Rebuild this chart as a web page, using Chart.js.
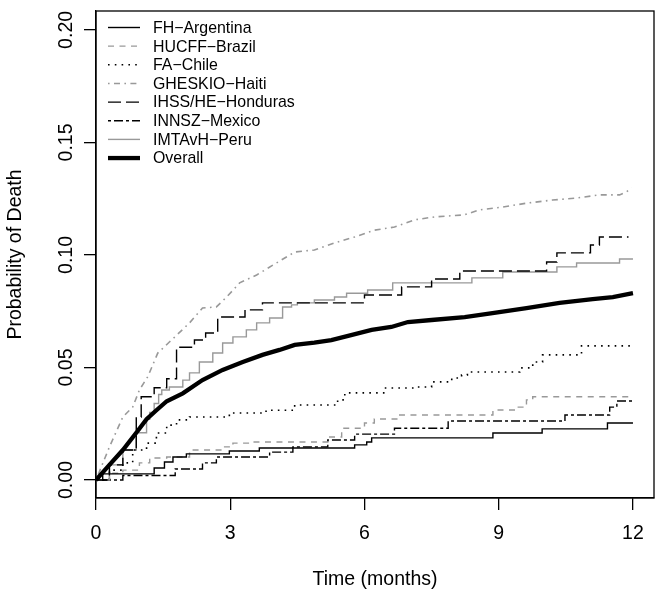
<!DOCTYPE html>
<html>
<head>
<meta charset="utf-8">
<script src="https://cdn.jsdelivr.net/npm/chart.js@4.4.0/dist/chart.umd.min.js"></script>
<style>
  html, body { margin: 0; padding: 0; background: #fff; }
  #wrap { width: 662px; height: 597px; }
</style>
</head>
<body>
<div id="wrap"><canvas id="c" width="662" height="597"></canvas></div>
<script>
// series names as in the legend
const seriesNames = ["FH\u2212Argentina", "HUCFF\u2212Brazil", "FA\u2212Chile", "GHESKIO\u2212Haiti",
  "IHSS/HE\u2212Honduras", "INNSZ\u2212Mexico", "IMTAvH\u2212Peru", "Overall"];

// time (months) and cumulative probability
const argT = [0, 0.15, 1.3, 1.53, 1.72, 2.02, 2.98, 3.65, 5.78, 6.05, 6.16, 8.87, 9.97, 11.43, 12];
const argP = [0, 0.0027, 0.0053, 0.008, 0.0102, 0.0116, 0.0129, 0.0142, 0.0156, 0.0169, 0.0187, 0.0209, 0.0227, 0.0253, 0.0253];

const braT = [0, 0.3, 0.6, 0.97, 1.2, 1.58, 2.09, 2.83, 3.06, 3.43, 5.18, 5.49, 6.0, 6.22, 6.74, 8.87, 9.4, 9.62, 9.76, 12];
const braP = [0, 0.003, 0.0044, 0.0076, 0.0098, 0.0102, 0.0133, 0.0147, 0.0164, 0.0169, 0.0191, 0.023, 0.0253, 0.0271, 0.0289, 0.0311, 0.0324, 0.0356, 0.037, 0.037];

const chiT = [0, 0.3, 0.6, 0.82, 1.13, 1.35, 1.58, 1.8, 2.09, 2.98, 3.8, 4.44, 5.4, 5.56, 6.45, 7.12, 7.5, 7.95, 8.17, 8.3, 9.47, 9.76, 9.98, 10.85, 12];
const chiP = [0, 0.0044, 0.0076, 0.0133, 0.0164, 0.0209, 0.0244, 0.0267, 0.028, 0.0298, 0.031, 0.0333, 0.0356, 0.0387, 0.0409, 0.0413, 0.0436, 0.0453, 0.0467, 0.048, 0.0498, 0.0524, 0.0556, 0.0596, 0.0596];

const haiT = [0, 0.3, 0.6, 0.82, 0.97, 1.16, 1.38, 1.64, 2.09, 2.38, 2.69, 2.92, 3.21, 3.59, 4.03, 4.44, 4.88, 5.33, 5.78, 6.22, 6.67, 7.12, 7.56, 8.23, 8.57, 9.09, 9.62, 10.2, 10.74, 11.25, 11.7, 11.85, 11.97];
const haiP = [0, 0.0147, 0.028, 0.0324, 0.04, 0.046, 0.0564, 0.0613, 0.0698, 0.0764, 0.0769, 0.0813, 0.0876, 0.0911, 0.0964, 0.1013, 0.1022, 0.1053, 0.108, 0.111, 0.1124, 0.1156, 0.1169, 0.1178, 0.12, 0.1213, 0.123, 0.1244, 0.1253, 0.1267, 0.1267, 0.128, 0.1298];

const honT = [0, 0.3, 0.6, 0.9, 1.01, 1.3, 1.58, 1.8, 2.2, 2.45, 2.72, 3.33, 3.72, 6.0, 6.83, 7.5, 8.13, 10.07, 10.3, 11.05, 11.25, 11.9];
const honP = [0, 0.0067, 0.0133, 0.028, 0.037, 0.041, 0.045, 0.059, 0.0622, 0.0653, 0.0724, 0.0756, 0.0787, 0.0822, 0.0858, 0.0893, 0.0929, 0.0969, 0.1009, 0.1044, 0.108, 0.108];

const mexT = [0, 0.6, 1.77, 2.38, 2.69, 3.88, 4.4, 5.18, 5.78, 6.67, 7.87, 10.48, 11.48, 11.64, 12];
const mexP = [0, 0.002, 0.0049, 0.0076, 0.0102, 0.0124, 0.0147, 0.0178, 0.0204, 0.023, 0.0262, 0.0289, 0.0324, 0.0351, 0.0351];

const perT = [0, 0.3, 0.6, 0.9, 1.13, 1.2, 1.3, 1.4, 1.47, 1.64, 1.94, 2.09, 2.31, 2.61, 2.83, 3.06, 3.36, 3.59, 3.88, 4.17, 4.37, 4.5, 4.88, 5.33, 5.6, 6.07, 6.63, 8.4, 9.09, 10.3, 10.74, 11.7, 12];
const perP = [0, 0.0067, 0.0133, 0.021, 0.027, 0.03, 0.034, 0.038, 0.04, 0.0413, 0.0444, 0.0476, 0.0524, 0.0564, 0.0609, 0.0636, 0.0667, 0.0698, 0.072, 0.0769, 0.0778, 0.0787, 0.08, 0.0813, 0.083, 0.0844, 0.0876, 0.0898, 0.0924, 0.0947, 0.0964, 0.0982, 0.0982];

const allT = [0, 0.3, 0.6, 0.9, 1.13, 1.35, 1.58, 1.94, 2.38, 2.83, 3.28, 3.72, 4.1, 4.44, 4.88, 5.26, 5.7, 6.16, 6.6, 6.97, 7.5, 8.24, 8.86, 9.62, 10.36, 11.1, 11.55, 12];
const allP = [0, 0.0067, 0.0133, 0.021, 0.027, 0.031, 0.035, 0.0385, 0.0444, 0.0489, 0.0524, 0.0556, 0.0578, 0.06, 0.061, 0.0622, 0.0644, 0.0667, 0.068, 0.0702, 0.0711, 0.0724, 0.0742, 0.0764, 0.0787, 0.0804, 0.0813, 0.083];

const xTicks = [0, 3, 6, 9, 12];
const yTicks = [0, 0.05, 0.10, 0.15, 0.20];

const FONT = "'Liberation Sans', Arial, Helvetica, sans-serif";
const GRAY = "#999999";

function pts(t, p) {
  return t.map((v, i) => ({ x: v, y: p[i] }));
}

function ds(i, t, p, color, dash, width, stepped, order) {
  return {
    label: seriesNames[i],
    data: pts(t, p),
    borderColor: color,
    borderDash: dash,
    borderWidth: width,
    stepped: stepped,
    tension: 0,
    pointRadius: 0,
    fill: false,
    order: order
  };
}

const datasets = [
  ds(0, argT, argP, "#000", [], 1.4, "before", 1),
  ds(1, braT, braP, GRAY, [6, 5.5], 1.4, "before", 1),
  ds(2, chiT, chiP, "#000", [1.6, 5.2], 1.6, "before", 1),
  ds(3, haiT, haiP, GRAY, [1.6, 4.4, 6, 4.4], 1.6, false, 1),
  ds(4, honT, honP, "#000", [13, 5], 1.4, "before", 1),
  ds(5, mexT, mexP, "#000", [3, 3, 9, 3], 1.4, "before", 1),
  ds(6, perT, perP, GRAY, [], 1.4, "before", 1),
  ds(7, allT, allP, "#000", [], 4.3, false, 0)
];

// box, rotated y labels, y title and the legend, R style
const decor = {
  id: "decor",
  afterDraw(chart) {
    const ctx = chart.ctx;
    const ca = chart.chartArea;
    const ys = chart.scales.y;
    ctx.save();
    ctx.strokeStyle = "#000";
    ctx.lineWidth = 1.3;
    ctx.setLineDash([]);
    ctx.strokeRect(ca.left, ca.top, ca.right - ca.left, ca.bottom - ca.top);

    ctx.fillStyle = "#000";
    ctx.font = "19.5px " + FONT;
    ctx.textAlign = "center";
    ctx.textBaseline = "alphabetic";
    yTicks.forEach(v => {
      const y = ys.getPixelForValue(v);
      ctx.save();
      ctx.translate(72, y);
      ctx.rotate(-Math.PI / 2);
      ctx.fillText(v.toFixed(2), 0, 0);
      ctx.restore();
    });
    ctx.save();
    ctx.translate(21, (ca.top + ca.bottom) / 2);
    ctx.rotate(-Math.PI / 2);
    ctx.fillText("Probability of Death", 0, 0);
    ctx.restore();

    // legend
    ctx.font = "15.9px " + FONT;
    ctx.textAlign = "left";
    ctx.textBaseline = "middle";
    chart.data.datasets.forEach((d, i) => {
      const y = 27.5 + i * 18.65;
      ctx.beginPath();
      ctx.strokeStyle = d.borderColor;
      ctx.lineWidth = d.borderWidth;
      ctx.setLineDash(d.borderDash);
      ctx.moveTo(108, y);
      ctx.lineTo(140, y);
      ctx.stroke();
      ctx.fillStyle = "#000";
      ctx.fillText(d.label, 153, y + 1);
    });
    ctx.restore();
  }
};

new Chart(document.getElementById("c"), {
  type: "line",
  data: { datasets: datasets },
  options: {
    responsive: false,
    animation: false,
    events: [],
    layout: { padding: { top: 11, right: 8, left: 0, bottom: 0 } },
    plugins: { legend: { display: false }, tooltip: { enabled: false } },
    scales: {
      x: {
        type: "linear",
        min: 0,
        max: 12.47,
        afterBuildTicks: s => { s.ticks = xTicks.map(v => ({ value: v })); },
        afterFit: s => { s.height = 99; },
        ticks: {
          color: "#000",
          font: { family: FONT, size: 19.5 },
          padding: 12,
          maxRotation: 0,
          autoSkip: false
        },
        grid: { drawOnChartArea: false, drawTicks: true, tickLength: 12, color: "#000", lineWidth: 1.3 },
        border: { display: true, color: "#000", width: 1.3 },
        title: {
          display: true,
          text: "Time (months)",
          color: "#000",
          font: { family: FONT, size: 19.5 },
          padding: { top: 0, bottom: 6 }
        }
      },
      y: {
        type: "linear",
        min: -0.008,
        max: 0.2084,
        afterBuildTicks: s => { s.ticks = yTicks.map(v => ({ value: v })); },
        afterFit: s => { s.width = 96; },
        ticks: { display: false },
        grid: { drawOnChartArea: false, drawTicks: true, tickLength: 12, color: "#000", lineWidth: 1.3 },
        border: { display: true, color: "#000", width: 1.3 }
      }
    }
  },
  plugins: [decor]
});
</script>
</body>
</html>
